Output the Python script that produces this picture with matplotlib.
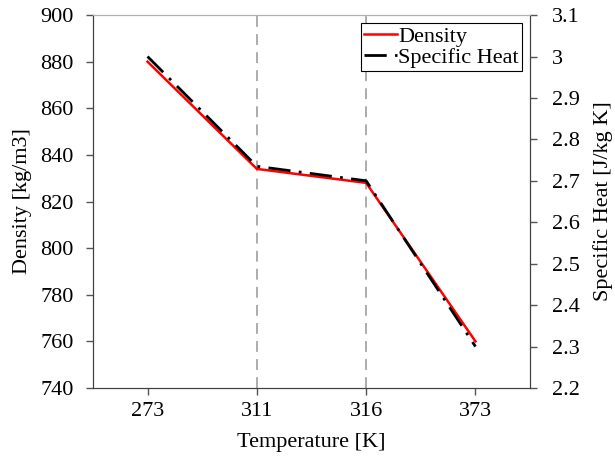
import numpy as np
import matplotlib.pyplot as plt
from matplotlib.ticker import MultipleLocator

plt.rcParams["font.family"] = ["Liberation Serif", "DejaVu Serif"]

temperatures = ["273", "311", "316", "373"]
density = [880, 834, 828, 760]
specific_heat = [3.0, 2.735, 2.70, 2.30]
marked_temps = ["311", "316"]
heat_ticks = [2.2, 2.3, 2.4, 2.5, 2.6, 2.7, 2.8, 2.9, 3.0, 3.1]

x = np.arange(len(temperatures))
FS = 16

fig = plt.figure(figsize=(6.15, 4.57), dpi=100)
ax = fig.add_axes([0.151, 0.151, 0.711, 0.816])
ax2 = ax.twinx()

for t in marked_temps:
    ax.axvline(temperatures.index(t), color="#a6a6a6", lw=1.3, linestyle=(0, (6, 4)), zorder=0)

(l1,) = ax.plot(x, density, color="#ff0000", lw=1.8, label="Density", zorder=3)
(l2,) = ax2.plot(x, specific_heat, color="black", lw=2.0,
                 linestyle=(0, (8, 3, 1, 3)), label="Specific Heat", zorder=2)

ax.set_xlim(-0.5, 3.5)
ax.set_ylim(740, 900)
ax2.set_ylim(2.2, 3.1)
ax.set_xticks(x)
ax.set_xticklabels(temperatures)
ax.yaxis.set_major_locator(MultipleLocator(20))
ax2.set_yticks(heat_ticks)
ax2.set_yticklabels([f"{v:g}" for v in heat_ticks])

ax.set_xlabel("Temperature [K]", fontsize=FS, labelpad=9)
ax.set_ylabel("Density [kg/m3]", fontsize=FS, labelpad=6)
ax2.set_ylabel("Specific Heat [J/kg K]", fontsize=FS, labelpad=9)

for a in (ax, ax2):
    a.tick_params(labelsize=FS, direction="out", length=5, width=1, color="#555555")
    for s in a.spines.values():
        s.set_color("#404040")
    a.spines["top"].set_color("#b0b0b0")
ax.tick_params(axis="x", pad=5)
ax.tick_params(axis="y", pad=9)
ax2.tick_params(axis="y", pad=11)

leg = ax.legend(handles=[l1, l2], loc="upper right", fontsize=FS, frameon=True,
                fancybox=False, edgecolor="black", framealpha=1, handlelength=1.5,
                handletextpad=0.05, borderpad=0.15, labelspacing=0.0,
                bbox_to_anchor=(0.982, 0.978), borderaxespad=0)
leg.get_frame().set_linewidth(0.8)
leg.set_zorder(10)

fig.savefig("out.png", dpi=100)
